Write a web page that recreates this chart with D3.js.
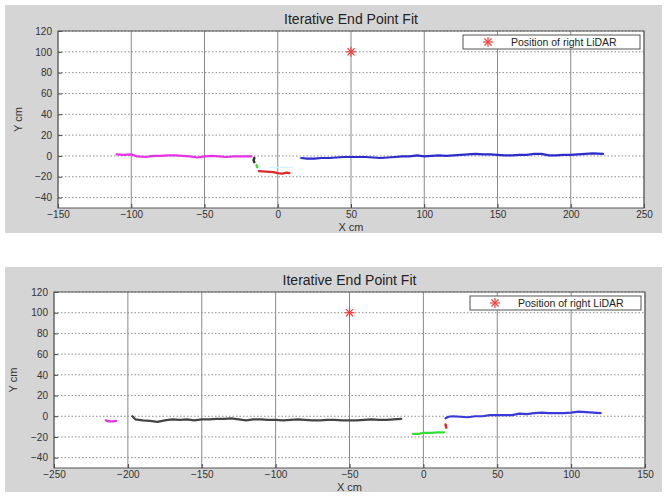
<!DOCTYPE html>
<html>
<head>
<meta charset="utf-8">
<script src="https://cdn.jsdelivr.net/npm/d3@7"></script>
<style>
  body { margin: 0; background: #fff; }
  text { font-family: "Liberation Sans", Arial, sans-serif; }
</style>
</head>
<body>
<div id="chart"></div>
<script>
// top figure: x/y of each fitted segment
const topMagentaX = [-110, -105, -100, -96, -90, -85, -80, -75, -70, -65, -60, -55, -50, -45, -40, -35, -30, -25, -20, -18];
const topMagentaY = [1.5, 1, 1.5, -0.5, -1, 0, 0, 0.5, 0.5, 0, -0.5, -1.5, -0.5, 0, -0.5, -1, -0.5, -0.5, -0.5, -0.5];
const topBlackX = [-16, -16.5, -16];
const topBlackY = [-2, -4, -6];
const topGreenX = [-14.5, -14];
const topGreenY = [-9, -10.5];
const topCyanX = [-5, 10];
const topCyanY = [-11, -11];
const topRedX = [-13, -8, -3, 0, 3, 6, 8];
const topRedY = [-14.5, -15, -15.5, -16.5, -17, -16, -16.5];
const topBlueX = [16, 20, 25, 30, 35, 40, 45, 50, 55, 60, 65, 70, 75, 80, 85, 90, 95, 100, 105, 110, 115, 120, 125, 130, 135, 140, 145, 150, 155, 160, 165, 170, 175, 180, 185, 190, 195, 200, 205, 210, 215, 222];
const topBlueY = [-2, -2.5, -2.5, -2, -2, -1.5, -1, -1, -1, -1, -1.5, -2, -1.5, -1, -0.5, -0.5, 0.5, -0.5, 0, 0.5, 0, 0.5, 1, 1.5, 2, 1.5, 1.5, 1, 0.5, 0.5, 1, 1, 2, 2, 0.5, 0.5, 1, 1, 1.5, 2, 2.5, 2];

// bottom figure
const botMagentaX = [-215, -213, -210, -208];
const botMagentaY = [-4, -5, -5, -4.5];
const botBlackX = [-197, -195, -190, -185, -180, -175, -170, -165, -160, -155, -150, -145, -140, -135, -130, -125, -120, -115, -110, -105, -100, -95, -90, -85, -80, -75, -70, -65, -60, -55, -50, -45, -40, -35, -30, -25, -20, -15];
const botBlackY = [0, -3, -4, -4.5, -5.5, -4, -3, -3.5, -3, -4, -3, -3, -2.5, -2.5, -2, -3, -4, -3, -3, -3.5, -3.5, -4, -3.5, -3, -3.5, -4, -4, -3.5, -3.5, -4, -4, -4, -3.5, -3, -3.5, -3.5, -3, -2.5];
const botGreenX = [-7, -3, 0, 5, 10, 14];
const botGreenY = [-17, -17, -16, -16, -15.5, -15.5];
const botRedX = [15, 15.5];
const botRedY = [-8, -11];
const botBlueX = [15, 17, 20, 25, 30, 35, 40, 45, 50, 55, 60, 65, 70, 75, 80, 85, 90, 95, 100, 105, 110, 115, 120];
const botBlueY = [-2, -0.5, 0, -0.5, -1, 0, 0, 1, 1, 1, 1, 2.5, 2, 3, 3.5, 3, 3, 3, 3.5, 4.5, 4, 3.5, 3];

const lidarTop = [50, 100];
const lidarBottom = [-50, 100];

const yTicks = [-40, -20, 0, 20, 40, 60, 80, 100, 120];
const xTicksTop = [-150, -100, -50, 0, 50, 100, 150, 200, 250];
const xTicksBottom = [-250, -200, -150, -100, -50, 0, 50, 100, 150];

const titleText = "Iterative End Point Fit";
const legendText = "Position of right LiDAR";

const W = 667, H = 497;
const svg = d3.select("#chart").append("svg").attr("width", W).attr("height", H);

function zip(xs, ys) { return xs.map((x, i) => [x, ys[i]]); }

function drawPanel(p) {
  // grey figure background
  svg.append("rect")
    .attr("x", p.fig[0]).attr("y", p.fig[1])
    .attr("width", p.fig[2]).attr("height", p.fig[3])
    .attr("fill", "#d5d5d5");

  const x = d3.scaleLinear().domain(p.xDomain).range([p.left, p.right]);
  const y = d3.scaleLinear().domain([-50, 120]).range([p.bottom, p.top]);

  const g = svg.append("g");
  g.append("rect")
    .attr("x", p.left).attr("y", p.top)
    .attr("width", p.right - p.left).attr("height", p.bottom - p.top)
    .attr("fill", "#fff");

  // grid
  g.selectAll(".vg").data(p.xTicks).enter().append("line")
    .attr("x1", d => x(d)).attr("x2", d => x(d))
    .attr("y1", p.top).attr("y2", p.bottom)
    .attr("stroke", "#8a8a8a").attr("stroke-width", 1);
  g.selectAll(".hg").data(yTicks).enter().append("line")
    .attr("x1", p.left).attr("x2", p.right)
    .attr("y1", d => y(d)).attr("y2", d => y(d))
    .attr("stroke", "#8a8a8a").attr("stroke-width", 1)
    .attr("stroke-dasharray", "1.5,2");

  // axes
  const xAx = d3.axisBottom(x).tickValues(p.xTicks).tickSize(-4).tickPadding(3).tickFormat(d3.format("d"));
  const yAx = d3.axisLeft(y).tickValues(yTicks).tickSize(-4).tickPadding(6).tickFormat(d3.format("d"));
  const xa = g.append("g").attr("transform", `translate(0,${p.bottom})`).call(xAx);
  const ya = g.append("g").attr("transform", `translate(${p.left},0)`).call(yAx);
  [xa, ya].forEach(a => {
    a.select(".domain").remove();
    a.selectAll("line").attr("stroke", "#444");
    a.selectAll("text").attr("fill", "#333").style("font-size", "10px");
  });
  g.append("rect")
    .attr("x", p.left).attr("y", p.top)
    .attr("width", p.right - p.left).attr("height", p.bottom - p.top)
    .attr("fill", "none").attr("stroke", "#555").attr("stroke-width", 1);

  // segments
  const line = d3.line().x(d => x(d[0])).y(d => y(d[1])).curve(d3.curveLinear);
  p.series.forEach(s => {
    g.append("path")
      .attr("d", line(zip(s.x, s.y)))
      .attr("fill", "none").attr("stroke", s.color)
      .attr("stroke-width", s.w || 2.2)
      .attr("stroke-linejoin", "round").attr("stroke-linecap", "round");
  });

  // lidar asterisk
  const star = (cx, cy, r) => {
    const s = svg.append("g").attr("transform", `translate(${cx},${cy})`);
    [0, 45, 90, 135].forEach(a => {
      const rad = a * Math.PI / 180;
      s.append("line")
        .attr("x1", -r * Math.cos(rad)).attr("y1", -r * Math.sin(rad))
        .attr("x2", r * Math.cos(rad)).attr("y2", r * Math.sin(rad))
        .attr("stroke", "#f04040").attr("stroke-width", 1.2);
    });
  };
  star(x(p.lidar[0]), y(p.lidar[1]), 5);

  // title and labels
  svg.append("text").attr("x", (p.left + p.right) / 2).attr("y", p.top - 7)
    .attr("text-anchor", "middle").attr("fill", "#222")
    .style("font-size", "14px").text(titleText);
  svg.append("text").attr("x", (p.left + p.right) / 2).attr("y", p.bottom + 23)
    .attr("text-anchor", "middle").attr("fill", "#333")
    .style("font-size", "11px").text("X cm");
  svg.append("text")
    .attr("transform", `translate(${p.ylabX},${(p.top + p.bottom) / 2}) rotate(-90)`)
    .attr("text-anchor", "middle").attr("fill", "#333")
    .style("font-size", "11px").text("Y cm");

  // legend
  const lg = svg.append("g").attr("transform", `translate(${p.legend[0]},${p.legend[1]})`);
  lg.append("rect").attr("width", p.legend[2]).attr("height", 14)
    .attr("fill", "#fff").attr("stroke", "#555").attr("stroke-width", 1);
  star(p.legend[0] + 25, p.legend[1] + 7, 5);
  lg.append("text").attr("x", 48).attr("y", 10.5).attr("fill", "#222")
    .style("font-size", "10.5px").text(legendText);
}

drawPanel({
  fig: [5, 5, 657, 228],
  left: 58, right: 644, top: 31, bottom: 208,
  xDomain: [-150, 250], xTicks: xTicksTop,
  ylabX: 22,
  lidar: lidarTop,
  legend: [463, 35, 177],
  series: [
    { x: topMagentaX, y: topMagentaY, color: "#e632e6" },
    { x: topBlackX, y: topBlackY, color: "#333", w: 2.5 },
    { x: topGreenX, y: topGreenY, color: "#33dd33", w: 2.5 },
    { x: topCyanX, y: topCyanY, color: "#d6f4fb", w: 1.5 },
    { x: topRedX, y: topRedY, color: "#dd2a2a" },
    { x: topBlueX, y: topBlueY, color: "#2c2ccc" }
  ]
});

drawPanel({
  fig: [5, 267, 657, 225],
  left: 54, right: 645, top: 292, bottom: 468,
  xDomain: [-250, 150], xTicks: xTicksBottom,
  ylabX: 17,
  lidar: lidarBottom,
  legend: [470, 296, 171],
  series: [
    { x: botMagentaX, y: botMagentaY, color: "#e632e6" },
    { x: botBlackX, y: botBlackY, color: "#444" },
    { x: botGreenX, y: botGreenY, color: "#33dd33" },
    { x: botRedX, y: botRedY, color: "#dd2a2a", w: 2.5 },
    { x: botBlueX, y: botBlueY, color: "#3a3ad8" }
  ]
});
</script>
</body>
</html>
